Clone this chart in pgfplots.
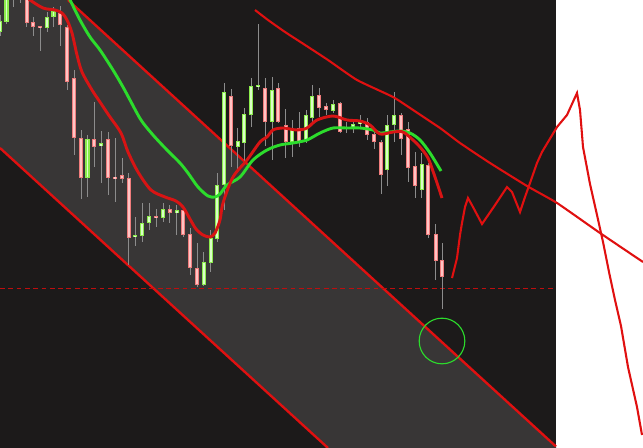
\documentclass[border=0pt]{standalone}
\usepackage{pgfplots}
\usepackage{pgfplotstable}
\pgfplotsset{compat=1.18}
\definecolor{bgdark}{HTML}{1C1A1A}
\definecolor{band}{HTML}{383636}
\definecolor{lred}{HTML}{E01010}
\definecolor{mared}{HTML}{D81414}
\definecolor{magreen}{HTML}{2CDC2C}
\definecolor{wick}{HTML}{8C8C8C}
\definecolor{redEdge}{HTML}{F07C7C}
\definecolor{redFill}{HTML}{FFC4C4}
\definecolor{grnEdge}{HTML}{8CEC4C}
\definecolor{grnFill}{HTML}{DAFFC8}
\pgfplotstableread{
x t b h l
13 -10 -4 -12 7
20 -8 -4 -12 3
26.7 -5 23 -8 27
33.3 22 27 17 36
40 26 28 26 51
60.3 13 25 6 46
67.3 27 82 25 90
74 78 138 70 155
81 138 178 130 199
94.3 139 147 102 167
108 139 178 132 195
115.3 177 178 138 202
122.3 175 179 158 183
128.7 178 238 173 265
156.3 216 218 209 227
169.7 209 213 205 223
183.3 210 235 208 237
190.3 234 268 228 275
197.3 268 285 243 287
231 96 146 89 167
265 88 122 78 146
278.3 88 122 83 123
285.7 125 142 109 158
299.3 128 142 112 147
319.3 95 108 88 117
326.3 106 110 103 115
340 103 132 102 133
346.7 127 128 122 133
367.3 122 135 118 140
374.3 134 142 132 149
381 142 175 140 194
401 115 139 113 155
408.3 129 168 122 182
415 166 186 152 198
428.3 165 235 163 238
435.7 234 261 224 280
442.3 260 277 243 309
}\redc
\pgfplotstableread{
x t b h l
0 21 32 15 36
6.5 -3 22 -5 24
47 17 28 12 32
53.5 11 17 7 27
87.5 139 178 135 197
101.3 143 146 131 183
135.3 235 236.5 217 246
142.3 223 236 203 242
149.3 216 223 203 230
163 209 218 203 222
176.7 210 213 205 235
203.7 262 285 252 286
210.7 238 263 230 272
217.3 185 239 173 242
224.3 92 185 83 210
237.7 141 147 128 170
244.3 114 143 108 165
251 86 115 78 127
258.3 85 87 24 90
272.3 90 122 77 160
292.3 128 142 120 157
306 115 140 110 143
312.3 96 118 85 125
333.3 104 111 100 113
353.3 124 128 122 133
360.3 122 124 115 128
387.3 125 170 115 186
394.3 115 125 92 142
421.7 164 190 153 198
}\grnc
\begin{document}
\begin{tikzpicture}
\begin{axis}[width=6.43in,height=4.48in,scale only axis,
  xmin=0,xmax=643,ymin=0,ymax=448,y dir=reverse,hide axis,clip=true]
% backgrounds
\addplot[fill=white,draw=none,forget plot] coordinates {(556,0)(643,0)(643,448)(556,448)} --cycle;
\addplot[fill=bgdark,draw=none,forget plot] coordinates {(0,0)(556,0)(556,448)(0,448)} --cycle;
\addplot[fill=band,draw=none,forget plot] coordinates {(0,0)(68,0)(556,446.5)(556,448)(328,448)(0,148)} --cycle;
% band lines
\addplot[lred,line width=1.7pt,forget plot] coordinates {(68,0)(556,446.5)};
\addplot[lred,line width=1.7pt,forget plot] coordinates {(0,148)(328,448)};
% dashed line
\addplot[lred!85!black,line width=0.6pt,dash pattern=on 3.5pt off 2.5pt,forget plot] coordinates {(0,288.5)(556,288.5)};
% wicks
\addplot[draw=none,mark=none,forget plot,error bars/.cd,y dir=both,y explicit,error mark=none,
  error bar style={draw=wick,line width=0.7pt,solid}]
  table[x=x,y expr={(\thisrow{h}+\thisrow{l})/2},y error expr={(\thisrow{l}-\thisrow{h})/2}] {\redc};
\addplot[draw=none,mark=none,forget plot,error bars/.cd,y dir=both,y explicit,error mark=none,
  error bar style={draw=wick,line width=0.7pt,solid}]
  table[x=x,y expr={(\thisrow{h}+\thisrow{l})/2},y error expr={(\thisrow{l}-\thisrow{h})/2}] {\grnc};
% bodies
\addplot[draw=none,mark=none,forget plot,error bars/.cd,y dir=both,y explicit,error mark=none,
  error bar style={draw=redEdge,line width=2.9pt,solid}]
  table[x=x,y expr={(\thisrow{t}+\thisrow{b})/2},y error expr={max(abs(\thisrow{b}-\thisrow{t})/2,0.7)}] {\redc};
\addplot[draw=none,mark=none,forget plot,error bars/.cd,y dir=both,y explicit,error mark=none,
  error bar style={draw=redFill,line width=1.4pt,solid}]
  table[x=x,y expr={(\thisrow{t}+\thisrow{b})/2},y error expr={max(abs(\thisrow{b}-\thisrow{t})/2-0.9,0.05)}] {\redc};
\addplot[draw=none,mark=none,forget plot,error bars/.cd,y dir=both,y explicit,error mark=none,
  error bar style={draw=grnEdge,line width=2.9pt,solid}]
  table[x=x,y expr={(\thisrow{t}+\thisrow{b})/2},y error expr={max(abs(\thisrow{b}-\thisrow{t})/2,0.7)}] {\grnc};
\addplot[draw=none,mark=none,forget plot,error bars/.cd,y dir=both,y explicit,error mark=none,
  error bar style={draw=grnFill,line width=1.4pt,solid}]
  table[x=x,y expr={(\thisrow{t}+\thisrow{b})/2},y error expr={max(abs(\thisrow{b}-\thisrow{t})/2-0.9,0.05)}] {\grnc};
% moving averages
\addplot[magreen,line width=2.1pt,smooth,tension=0.5,forget plot] coordinates {
(68,-2)(70,0)(80,20)(90,37)(100,50)(113,70)(123,87)(130,100)(141,120)(153,135)(167,150)(180,163)(188,173)(198,187)(208,196)(215,197)(220,194)(227,185)(240,177)(253,160)(267,150)(280,145)(293,143)(307,140)(320,133)(333,128)(347,128)(360,128)(373,130)(380,133)(390,132)(400,131)(410,133)(420,140)(430,153)(441,171)};
\addplot[mared,line width=2.1pt,smooth,tension=0.5,forget plot] coordinates {
(28,-2)(30,0)(43,8)(55,10)(62,13)(67,20)(72,33)(77,55)(82,72)(92,90)(100,102)(110,117)(121,133)(128,152)(138,172)(151,190)(165,197)(176,201)(183,207)(190,219)(196,229)(203,235)(210,237)(215,233)(220,220)(223,203)(233,177)(247,160)(260,142)(267,137)(273,130)(283,128)(297,130)(307,128)(317,120)(333,116)(347,120)(360,121)(370,125)(380,134)(393,132)(403,132)(413,140)(420,147)(428,158)(435,177)(442,198)};
% upper red line
\addplot[lred,line width=1.5pt,smooth,tension=0.3,forget plot] coordinates {
(255,10)(268,20)(285,32)(302,43)(328,60)(357,80)(393,97)(413,110)(440,128)(460,143)(490,163)(527,186)(557,203)(600,233)(643,262)};
% hand drawn squiggle
\addplot[lred,line width=1.5pt,forget plot] coordinates {
(452,278)(457,258)(460,235)(462,223)(465,207)(468,198)(473,207)(482,224)(493,208)(507,187)(512,192)(520,212)(525,197)(530,183)(537,163)(542,152)(557,127)(567,115)(577,93)(580,110)(583,147)(590,184)(597,215)(603,242)(609,272)(615,300)(621,326)(628,367)(637,407)(642,435)};
% circle
\addplot[only marks,mark=o,mark size=16.5pt,mark options={draw=magreen,line width=0.8pt},forget plot] coordinates {(442,341)};
\end{axis}
\end{tikzpicture}
\end{document}
